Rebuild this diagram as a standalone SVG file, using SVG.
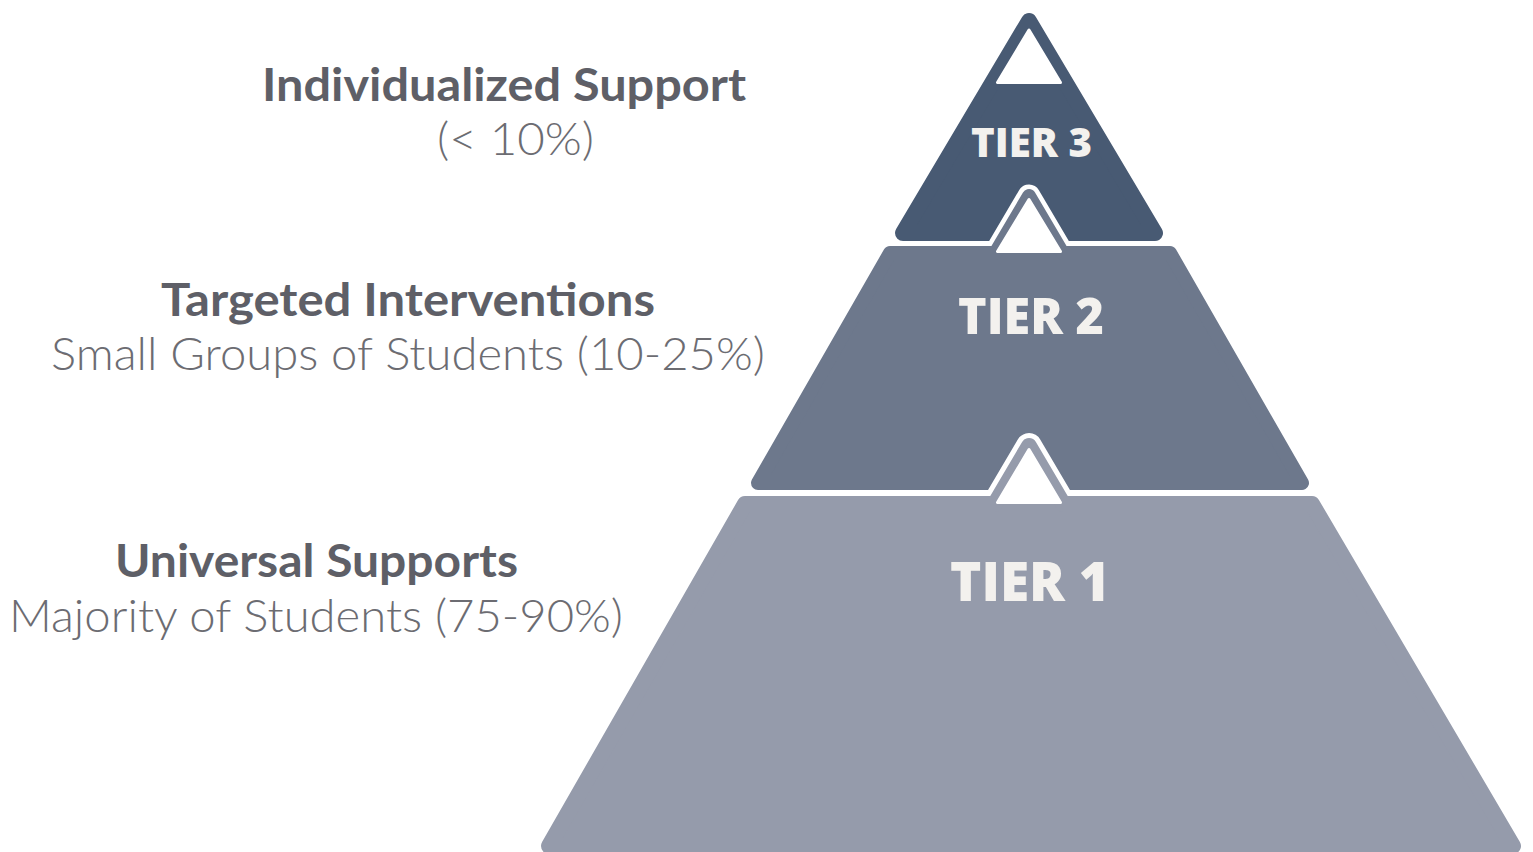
<svg xmlns="http://www.w3.org/2000/svg" width="1533" height="852" viewBox="0 0 1533 852">
  <style>
    .halo { fill: #ffffff; stroke: #ffffff; stroke-linejoin: round; }
    .hole { fill: #ffffff; stroke: #ffffff; stroke-width: 3; stroke-linejoin: round; }
    .t3 { fill: #485a73; stroke: #485a73; stroke-width: 16; stroke-linejoin: round; }
    .t2 { fill: #6d788c; stroke: #6d788c; stroke-width: 14; stroke-linejoin: round; }
    .t1 { fill: #959bab; stroke: #959bab; stroke-width: 16; stroke-linejoin: round; }
    .tier { font-family: "Open Sans", "Liberation Sans", sans-serif; font-weight: 800; fill: #f3f1ee; text-anchor: middle; }
    .head { font-family: Lato, "Liberation Sans", sans-serif; font-weight: 700; font-size: 46px; fill: #5e5f67; text-anchor: middle; }
    .sub { font-family: Lato, "Liberation Sans", sans-serif; font-weight: 300; font-size: 46px; fill: #6c6c72; text-anchor: middle; }
  </style>
  <rect width="1533" height="852" fill="#ffffff"/>

  <g id="tier3">
    <polygon class="t3" points="1029,21 1155,233 903,233"/>
  </g>

  <g id="tier2">
    <polygon class="halo" stroke-width="23" points="890,253 995.4,253 1029,196 1062.6,253 1170,253 1302,483 758,483"/>
    <polygon class="t2" points="890,253 995.4,253 1029,196 1062.6,253 1170,253 1302,483 758,483"/>
  </g>

  <g id="tier1">
    <polygon class="halo" stroke-width="26" points="745,504 994.8,504 1029,446 1063.2,504 1312,504 1513,846 549,846"/>
    <polygon class="t1" points="745,504 994.8,504 1029,446 1063.2,504 1312,504 1513,846 549,846"/>
  </g>

  <g id="peaks">
    <polygon class="hole" points="1029,30 997.5,82.5 1060.5,82.5"/>
    <polygon class="hole" points="1029,199.5 997.5,251.5 1060.5,251.5"/>
    <polygon class="hole" points="1029,449.5 997.5,502.5 1060.5,502.5"/>
  </g>

  <g id="tier-labels">
    <text class="tier" x="1031.5" y="157" font-size="41" textLength="121" lengthAdjust="spacingAndGlyphs">TIER 3</text>
    <text class="tier" x="1031" y="334" font-size="50" textLength="146" lengthAdjust="spacingAndGlyphs">TIER 2</text>
    <text class="tier" x="1030" y="601" font-size="54" textLength="160" lengthAdjust="spacingAndGlyphs">TIER 1</text>
  </g>

  <g id="label-tier3">
    <text class="head" x="504" y="101" textLength="484" lengthAdjust="spacingAndGlyphs">Individualized Support</text>
    <text class="sub" x="515.5" y="155" textLength="157" lengthAdjust="spacingAndGlyphs">(&lt; 10%)</text>
  </g>
  <g id="label-tier2">
    <text class="head" x="408" y="316" textLength="494" lengthAdjust="spacingAndGlyphs">Targeted Interventions</text>
    <text class="sub" x="408" y="370" textLength="714" lengthAdjust="spacingAndGlyphs">Small Groups of Students (10-25%)</text>
  </g>
  <g id="label-tier1">
    <text class="head" x="316.5" y="577" textLength="403" lengthAdjust="spacingAndGlyphs">Universal Supports</text>
    <text class="sub" x="316" y="632" textLength="614" lengthAdjust="spacingAndGlyphs">Majority of Students (75-90%)</text>
  </g>
</svg>
